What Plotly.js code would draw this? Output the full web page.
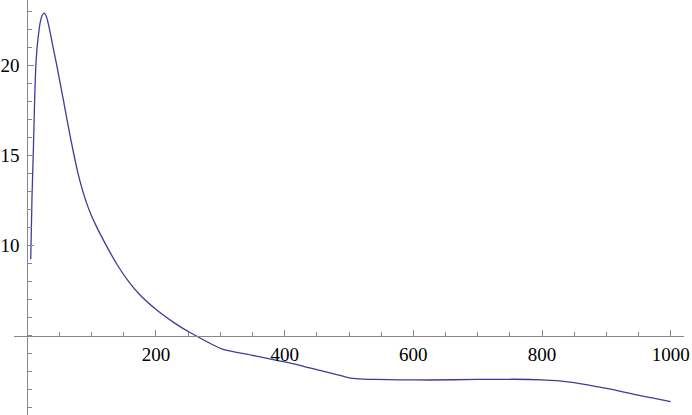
<!DOCTYPE html>
<html>
<head>
<meta charset="utf-8">
<script src="https://cdn.plot.ly/plotly-3.0.1.min.js"></script>
<style>html,body{margin:0;padding:0;background:#fff;}#plot{width:692px;height:415px;}</style>
</head>
<body>
<div id="plot"></div>
<script>
const xValues = [5.3, 7.3, 9.4, 11.2, 13, 15, 17.7, 20, 23, 26.4, 30, 35, 40, 45.7, 50.8, 56, 61.2, 66.4, 71.5, 78.4, 85.3, 92.3, 99.2, 106.1, 113, 126, 139, 157, 175.2, 201.1, 229.6, 253, 302, 350, 393, 425, 450, 475, 500, 515, 540, 580, 625, 700, 755, 800, 823, 850, 885, 915, 947, 975, 1000];
const yValues = [9.24, 12.7, 15.3, 17.8, 19.8, 20.9, 21.8, 22.35, 22.75, 22.88, 22.65, 21.9, 21.0, 20.0, 19.05, 18.08, 17.08, 16.1, 15.2, 14.06, 13.13, 12.34, 11.7, 11.16, 10.66, 9.79, 8.98, 8.03, 7.26, 6.43, 5.69, 5.18, 4.28, 3.92, 3.6, 3.35, 3.12, 2.9, 2.67, 2.61, 2.58, 2.56, 2.55, 2.58, 2.59, 2.56, 2.51, 2.4, 2.18, 1.98, 1.72, 1.53, 1.35];
const xTickVals = [200, 400, 600, 800, 1000];
const xTickText = ["200", "400", "600", "800", "1000"];
const yTickVals = [10, 15, 20];
const yTickText = ["10", "15", "20"];

const W = 692, H = 415, ml = 14, mr = 8;
const xr = [-20.7, 1020.7];
const yr = [0.61, 23.61];
const yAxisPos = (0 - xr[0]) / (xr[1] - xr[0]);
const xAxisPos = (5 - yr[0]) / (yr[1] - yr[0]);

const axisColor = '#888888';
const tickFont = {family: 'Liberation Serif', size: 19, color: '#000'};

Plotly.newPlot('plot', [{
  x: xValues, y: yValues, type: 'scatter', mode: 'lines',
  line: {color: '#3d3d99', width: 1.3, shape: 'spline', smoothing: 0.6}
}], {
  width: W, height: H,
  margin: {l: ml, r: mr, t: 0, b: 0},
  paper_bgcolor: '#fff', plot_bgcolor: '#fff',
  showlegend: false,
  font: {family: 'Liberation Serif'},
  xaxis: {
    range: xr, anchor: 'free', position: xAxisPos,
    showgrid: false, zeroline: false, showline: true, linecolor: axisColor, linewidth: 1,
    tickmode: 'array', tickvals: xTickVals, ticktext: xTickText,
    ticks: 'inside', ticklen: 6, tickcolor: axisColor, tickwidth: 1,
    tickfont: tickFont, ticklabelstandoff: 1,
    minor: {ticks: 'inside', ticklen: 4, dtick: 50, tick0: 0, tickcolor: axisColor, showgrid: false}
  },
  yaxis: {
    range: yr, anchor: 'free', position: yAxisPos,
    showgrid: false, zeroline: false, showline: true, linecolor: axisColor, linewidth: 1,
    tickmode: 'array', tickvals: yTickVals, ticktext: yTickText,
    ticks: 'inside', ticklen: 6, tickcolor: axisColor, tickwidth: 1,
    tickfont: tickFont, ticklabelstandoff: 4,
    minor: {ticks: 'inside', ticklen: 4, dtick: 1, tick0: 0, tickcolor: axisColor, showgrid: false}
  }
}, {displayModeBar: false, staticPlot: true});
</script>
</body>
</html>
